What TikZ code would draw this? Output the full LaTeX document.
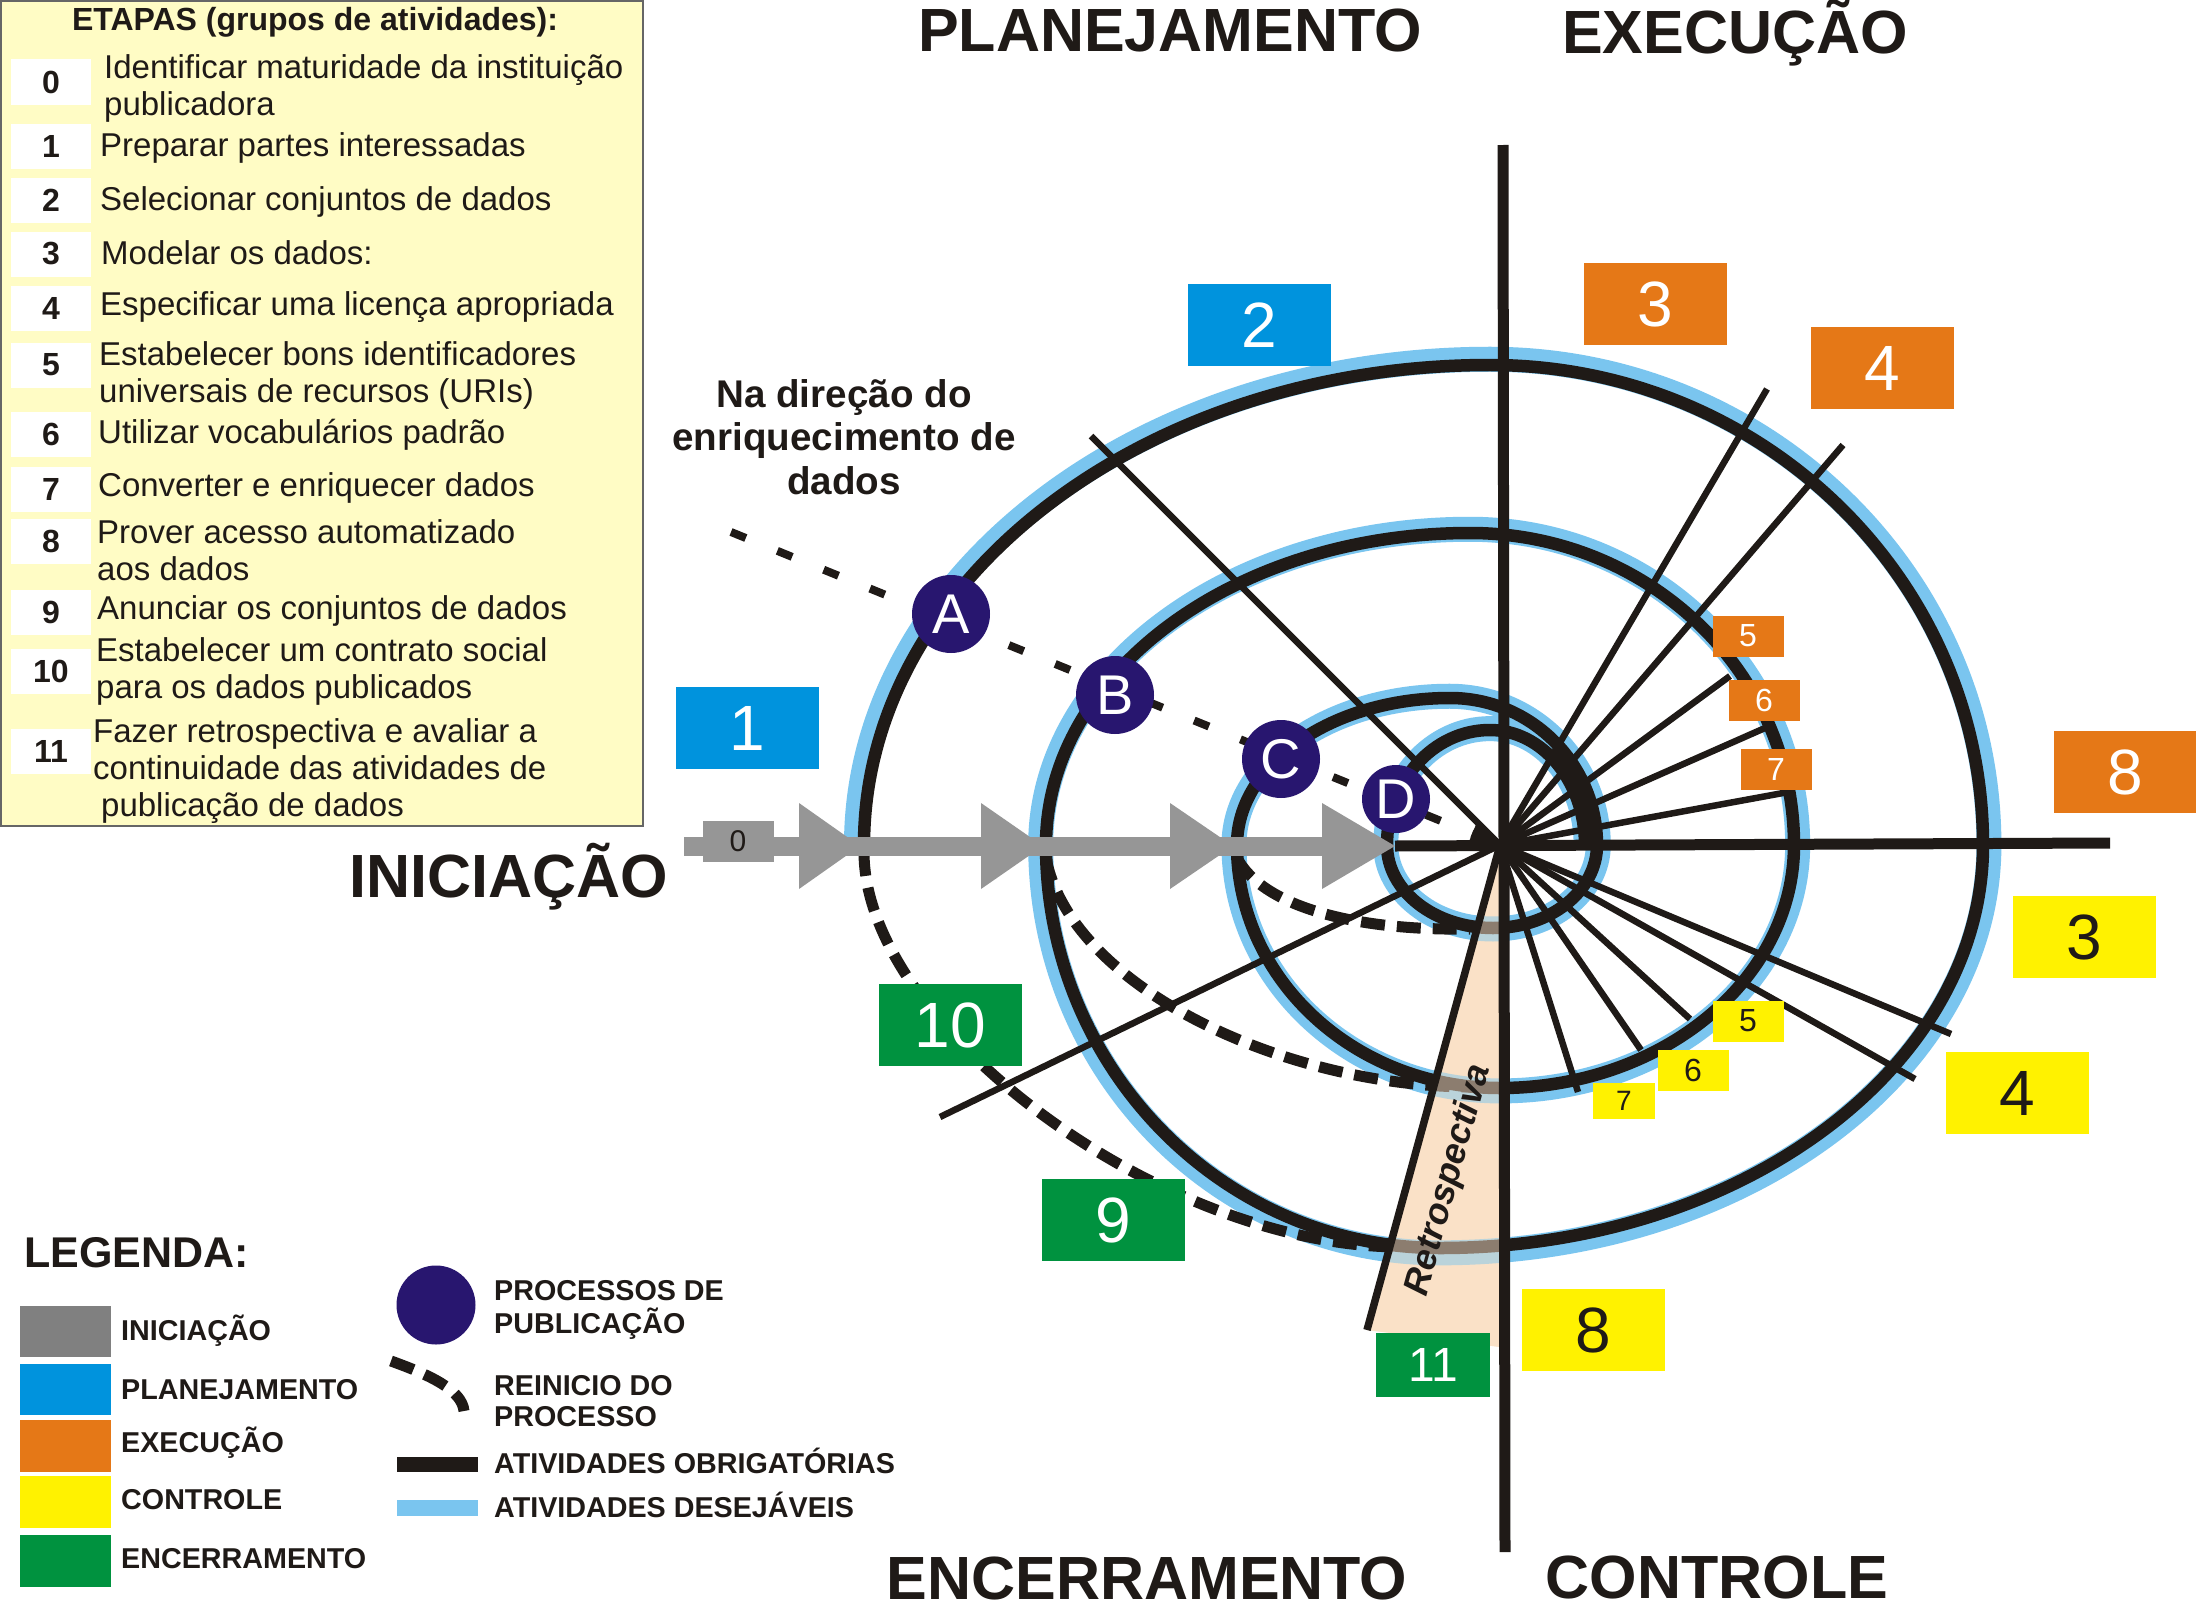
\documentclass[tikz,border=0pt]{standalone}
\usepackage{fontspec}
\setmainfont{Liberation Sans}
\usetikzlibrary{arrows.meta}
\definecolor{ink}{RGB}{31,26,23}
\definecolor{ini}{RGB}{150,150,150}
\definecolor{inileg}{RGB}{128,128,128}
\definecolor{plan}{RGB}{0,147,221}
\definecolor{exec}{RGB}{229,120,23}
\definecolor{ctrl}{RGB}{255,242,0}
\definecolor{ence}{RGB}{0,146,63}
\definecolor{navy}{RGB}{40,22,111}
\definecolor{halo}{RGB}{122,197,239}
\definecolor{pale}{RGB}{255,252,197}
\definecolor{peach}{RGB}{250,225,199}
\def\spiral{(864,845) arc[start angle=180,end angle=270,x radius=626,y radius=480]
 arc[start angle=270,end angle=360,x radius=493,y radius=480]
 arc[start angle=0,end angle=90,x radius=543,y radius=403]
 arc[start angle=90,end angle=180,x radius=394,y radius=403]
 arc[start angle=180,end angle=270,x radius=424,y radius=312]
 arc[start angle=270,end angle=360,x radius=324,y radius=312]
 arc[start angle=0,end angle=90,x radius=294,y radius=243]
 arc[start angle=90,end angle=180,x radius=263,y radius=243]
 arc[start angle=180,end angle=270,x radius=213,y radius=147]
 arc[start angle=270,end angle=360,x radius=147,y radius=147]
 arc[start angle=0,end angle=90,x radius=104,y radius=83]
 arc[start angle=90,end angle=180,x radius=106,y radius=83]
 arc[start angle=180,end angle=270,x radius=103,y radius=115]
 arc[start angle=270,end angle=360,x radius=95,y radius=115]}
\begin{document}
\begin{tikzpicture}[x=1pt,y=-1pt,
  ring/.style={line width=12.5pt, draw=ink},
  ringhalo/.style={line width=25pt, draw=halo},
  restart/.style={line width=11pt, draw=ink, dash pattern=on 24pt off 12pt},
  radial/.style={line width=6.5pt, draw=ink},
  axis/.style={line width=11pt, draw=ink},
  bigbox/.style={minimum width=143pt, minimum height=82pt, inner sep=0pt, font=\fontsize{64}{64}\selectfont},
  smallbox/.style={minimum width=71pt, minimum height=41pt, inner sep=0pt, font=\fontsize{32}{32}\selectfont},
  proc/.style={circle, fill=navy, minimum size=78pt, inner sep=0pt, text=white, font=\fontsize{56}{56}\selectfont},
  phase/.style={anchor=base, inner sep=0pt, text=ink, font=\bfseries\fontsize{61}{61}\selectfont},
  numbox/.style={fill=white, minimum width=80pt, minimum height=45pt, inner sep=0pt, text=ink, font=\bfseries\fontsize{32}{32}\selectfont},
  item/.style={anchor=west, align=left, inner sep=0pt, text=ink, font=\fontsize{33}{37}\selectfont},
  leg/.style={anchor=base west, inner sep=0pt, text=ink, font=\bfseries\fontsize{28.7}{28.7}\selectfont}]
\tikzset{>=latex}
\useasboundingbox (0,0) rectangle (2196,1611);
\fill[white] (0,0) rectangle (2196,1611);

% etapas
\draw[fill=pale, draw=gray!80!black, line width=2pt] (1,1) rectangle (643,826);
\node[text=ink, font=\bfseries\fontsize{32}{32}\selectfont] (title) at (315,22) {ETAPAS (grupos de atividades):};
\foreach \n/\y in {0/82,1/146,2/200,3/254,4/308,5/365,6/434,7/489,8/541,9/612,10/671,11/751}
  \node[numbox] (n\n) at (51,\y) {\n};
\node[item] (t0) at (104,88) {Identificar maturidade da instituição\\publicadora};
\node[item] (t1) at (100,148) {Preparar partes interessadas};
\node[item] (t2) at (100,202) {Selecionar conjuntos de dados};
\node[item] (t3) at (101,253) {Modelar os dados:};
\node[item] (t4) at (100,307) {Especificar uma licença apropriada};
\node[item] (t5) at (99,375) {Estabelecer bons identificadores\\universais de recursos (URIs)};
\node[item] (t6) at (98,435) {Utilizar vocabulários padrão};
\node[item] (t7) at (98,488) {Converter e enriquecer dados};
\node[item] (t8) at (97,550) {Prover acesso automatizado\\aos dados};
\node[item] (t9) at (97,611) {Anunciar os conjuntos de dados};
\node[item] (t10) at (96,671) {Estabelecer um contrato social\\para os dados publicados};
\node[item] (t11) at (93,771) {Fazer retrospectiva e avaliar a\\continuidade das atividades de\\\hspace*{8pt}publicação de dados};

% centro e eixos
\coordinate (hub) at (1500,845);
\coordinate (north) at (1503,145);
\coordinate (south) at (1505,1552);
\coordinate (east) at (2110,843);
\coordinate (dtip) at (1395,846);
\coordinate (wl) at (1367,1330);
\coordinate (wr) at (1500,1347);

\fill[peach] (hub) -- (wl) -- (wr) -- cycle;

\draw[ringhalo, shift={(1490,845)}, scale=1.012, shift={(-1490,-845)}] \spiral;
\draw[ring] \spiral;

\draw[restart] (864,852) .. controls (864,1025) and (1159,1246) .. (1400,1247);
\draw[restart] (1046,858) .. controls (1070,985) and (1280,1086) .. (1470,1087);
\draw[restart] (1237,858) .. controls (1262,905) and (1350,931) .. (1470,929);

\fill[peach, opacity=0.5] (hub) -- (wl) -- (wr) -- cycle;

\foreach \x/\y [count=\i] in {1091/436,1767/389,1843/445,1730/676,1765/728,1794/791,1951/1034,1915/1079,1690/1019,1641/1050,1578/1092,940/1117}
  \coordinate (r\i) at (\x,\y);
\foreach \i in {1,...,12}
  \draw[radial] (hub) -- (r\i);
\draw[radial, line width=7.5pt] (hub) -- (wl);
\draw[axis] (north) -- (south);
\draw[axis] (dtip) -- (east);

% iniciacao
\fill[ini] (684,837) rectangle (1330,856);
\foreach \b/\t in {799/860,981/1043,1170/1233,1322/1395}
  \fill[ini] (\b,803) -- (\t,846) -- (\b,889) -- cycle;
\node[fill=ini, minimum width=71pt, minimum height=41pt, inner sep=0pt, text=ink, font=\fontsize{30}{30}\selectfont] (z0) at (738,841) {0};

% enriquecimento
\coordinate (enr) at (731,532);
\draw[line width=8pt, draw=ink, dash pattern=on 16pt off 34pt, -{Latex[length=30pt,width=20pt]}] (enr) -- (hub);
\node[proc] (A) at (951,614) {A};
\node[proc] (B) at (1115,695) {B};
\node[proc] (C) at (1281,759) {C};
\node[proc, minimum size=68pt] (D) at (1396,799) {D};

% atividades
\node[bigbox, fill=plan, text=white] (p1) at (747,728) {1};
\node[bigbox, fill=plan, text=white] (p2) at (1259,325) {2};
\node[bigbox, fill=exec, text=white] (e3) at (1655,304) {3};
\node[bigbox, fill=exec, text=white] (e4) at (1882,368) {4};
\node[bigbox, fill=exec, text=white] (e8) at (2125,772) {8};
\node[smallbox, fill=exec, text=white] (e5) at (1748,636) {5};
\node[smallbox, fill=exec, text=white] (e6) at (1764,700) {6};
\node[smallbox, fill=exec, text=white] (e7) at (1776,769) {7};
\node[bigbox, fill=ctrl, text=ink] (c3) at (2084,937) {3};
\node[bigbox, fill=ctrl, text=ink] (c4) at (2017,1093) {4};
\node[bigbox, fill=ctrl, text=ink] (c8) at (1593,1330) {8};
\node[smallbox, fill=ctrl, text=ink] (c5) at (1748,1021) {5};
\node[smallbox, fill=ctrl, text=ink] (c6) at (1693,1070) {6};
\node[smallbox, fill=ctrl, text=ink, minimum width=62pt, minimum height=36pt, font=\fontsize{28}{28}\selectfont] (c7) at (1624,1101) {7};
\node[bigbox, fill=ence, text=white] (f10) at (950,1025) {10};
\node[bigbox, fill=ence, text=white] (f9) at (1113,1220) {9};
\node[bigbox, fill=ence, text=white, minimum width=114pt, minimum height=64pt, font=\fontsize{48}{48}\selectfont] (f11) at (1433,1365) {11};
\node[rotate=74.5, text=ink, font=\bfseries\itshape\fontsize{36}{36}\selectfont] (retro) at (1449,1180) {Retrospectiva};

% fases
\node[phase] (plan) at (1170,52) {PLANEJAMENTO};
\node[phase] (exec) at (1735,54) {EXECUÇÃO};
\node[phase] (ini) at (509,897) {INICIAÇÃO};
\node[phase] (ence) at (1147,1599) {ENCERRAMENTO};
\node[phase] (ctrl) at (1717,1598) {CONTROLE};
\node[text=ink, align=center, font=\bfseries\fontsize{38.6}{43.5}\selectfont] (dir) at (844,437) {Na direção do\\enriquecimento de\\dados};

% legenda
\node[anchor=base west, inner sep=0pt, text=ink, font=\bfseries\fontsize{43}{43}\selectfont] (leg) at (24,1267) {LEGENDA:};
\fill[inileg] (20,1306) rectangle (111,1357);
\fill[plan] (20,1364) rectangle (111,1415);
\fill[exec] (20,1420) rectangle (111,1472);
\fill[ctrl] (20,1476) rectangle (111,1528);
\fill[ence] (20,1535) rectangle (111,1587);
\node[leg] (l1) at (121,1340) {INICIAÇÃO};
\node[leg] (l2) at (121,1399) {PLANEJAMENTO};
\node[leg] (l3) at (121,1452) {EXECUÇÃO};
\node[leg] (l4) at (121,1509) {CONTROLE};
\node[leg] (l5) at (121,1568) {ENCERRAMENTO};
\node[proc, minimum size=79pt] (lp) at (436,1305) {};
\coordinate (ld0) at (391,1361);
\coordinate (ld1) at (464,1411);
\draw[restart] (ld0) .. controls (430,1375) and (462,1390) .. (ld1);
\fill[ink] (397,1457) rectangle (478,1472);
\fill[halo] (397,1500) rectangle (478,1516);
\node[leg] (l6) at (494,1300) {PROCESSOS DE};
\node[leg] (l7) at (494,1333) {PUBLICAÇÃO};
\node[leg] (l8) at (494,1395) {REINICIO DO};
\node[leg] (l9) at (494,1426) {PROCESSO};
\node[leg] (l10) at (494,1473) {ATIVIDADES OBRIGATÓRIAS};
\node[leg] (l11) at (494,1517) {ATIVIDADES DESEJÁVEIS};
\end{tikzpicture}
\end{document}
